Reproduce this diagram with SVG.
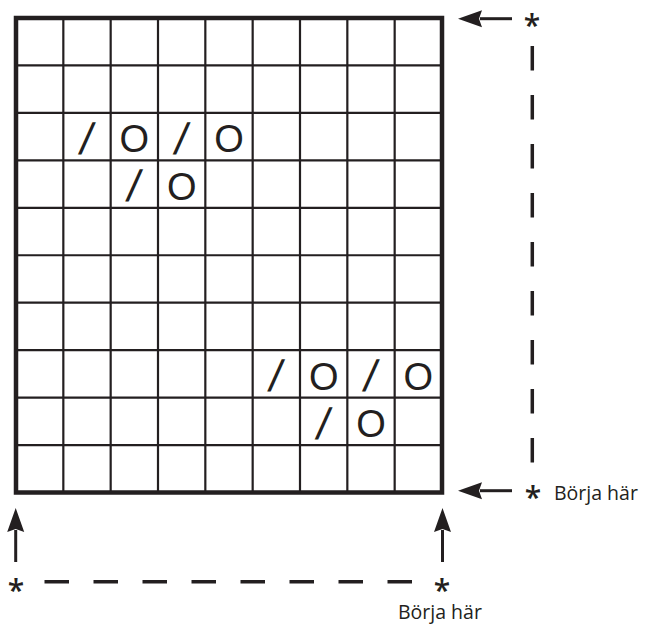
<svg xmlns="http://www.w3.org/2000/svg" width="646" height="628" viewBox="0 0 646 628">
  <style>
    .thin { stroke: #231f20; stroke-width: 2.2; fill: none; }
    .border { stroke: #231f20; stroke-width: 4.5; fill: none; }
    .sym { font-family: "Liberation Sans", Arial, sans-serif; fill: #231f20; text-anchor: middle; }
    .o { font-size: 38px; }
    .sl { font-size: 44px; }
    .ast { font-family: "Open Sans", "Liberation Sans", sans-serif; font-size: 30px; font-weight: 600; fill: #231f20; text-anchor: middle; }
    .lbl { font-family: "Open Sans", "Liberation Sans", sans-serif; font-size: 19.5px; fill: #231f20; }
    .arrow { stroke: #231f20; stroke-width: 3; fill: none; marker-end: url(#head); }
    .dash { stroke: #231f20; stroke-width: 3.5; fill: none; stroke-dasharray: 24.5 24.5; }
  </style>
  <defs>
    <marker id="head" markerUnits="userSpaceOnUse" markerWidth="26" markerHeight="18" refX="2" refY="8.5" orient="auto" overflow="visible">
      <path d="M0,0 L24,8.5 L0,17 L3,8.5 Z" fill="#231f20"/>
    </marker>
  </defs>

  <g id="grid">
    <g class="thin">
      <line x1="63.33" y1="18" x2="63.33" y2="492.5"/>
      <line x1="110.67" y1="18" x2="110.67" y2="492.5"/>
      <line x1="158" y1="18" x2="158" y2="492.5"/>
      <line x1="205.33" y1="18" x2="205.33" y2="492.5"/>
      <line x1="252.67" y1="18" x2="252.67" y2="492.5"/>
      <line x1="300" y1="18" x2="300" y2="492.5"/>
      <line x1="347.33" y1="18" x2="347.33" y2="492.5"/>
      <line x1="394.67" y1="18" x2="394.67" y2="492.5"/>
      <line x1="16" y1="65.45" x2="442" y2="65.45"/>
      <line x1="16" y1="112.9" x2="442" y2="112.9"/>
      <line x1="16" y1="160.35" x2="442" y2="160.35"/>
      <line x1="16" y1="207.8" x2="442" y2="207.8"/>
      <line x1="16" y1="255.25" x2="442" y2="255.25"/>
      <line x1="16" y1="302.7" x2="442" y2="302.7"/>
      <line x1="16" y1="350.15" x2="442" y2="350.15"/>
      <line x1="16" y1="397.6" x2="442" y2="397.6"/>
      <line x1="16" y1="445.05" x2="442" y2="445.05"/>
    </g>
    <rect class="border" x="16" y="18" width="426" height="474.5"/>
  </g>

  <g id="symbols">
    <text class="sym sl" transform="translate(84.1,153.9) skewX(-10)">/</text>
    <text class="sym o" x="134.3" y="152.4">O</text>
    <text class="sym sl" transform="translate(178.8,153.9) skewX(-10)">/</text>
    <text class="sym o" x="229" y="152.4">O</text>
    <text class="sym sl" transform="translate(131.4,201.4) skewX(-10)">/</text>
    <text class="sym o" x="181.7" y="199.9">O</text>
    <text class="sym sl" transform="translate(273.4,391.2) skewX(-10)">/</text>
    <text class="sym o" x="323.7" y="389.7">O</text>
    <text class="sym sl" transform="translate(368.1,391.2) skewX(-10)">/</text>
    <text class="sym o" x="418.3" y="389.7">O</text>
    <text class="sym sl" transform="translate(320.8,438.6) skewX(-10)">/</text>
    <text class="sym o" x="371" y="437.1">O</text>
  </g>

  <g id="connectors">
    <line class="arrow" x1="512" y1="18.7" x2="480" y2="18.7"/>
    <line class="arrow" x1="512" y1="490.7" x2="480" y2="490.7"/>
    <line class="arrow" x1="15.7" y1="562" x2="15.7" y2="530"/>
    <line class="arrow" x1="442.5" y1="562" x2="442.5" y2="530"/>
    <line class="dash" x1="532.3" y1="46" x2="532.3" y2="463"/>
    <line class="dash" x1="44.5" y1="581.7" x2="413" y2="581.7"/>
  </g>

  <g id="labels">
    <text class="ast" x="532" y="36">*</text>
    <text class="ast" x="533" y="508">*</text>
    <text class="ast" x="16" y="601">*</text>
    <text class="ast" x="442" y="601">*</text>
    <text class="lbl" x="554" y="500">Börja här</text>
    <text class="lbl" x="398" y="618.5">Börja här</text>
  </g>
</svg>
